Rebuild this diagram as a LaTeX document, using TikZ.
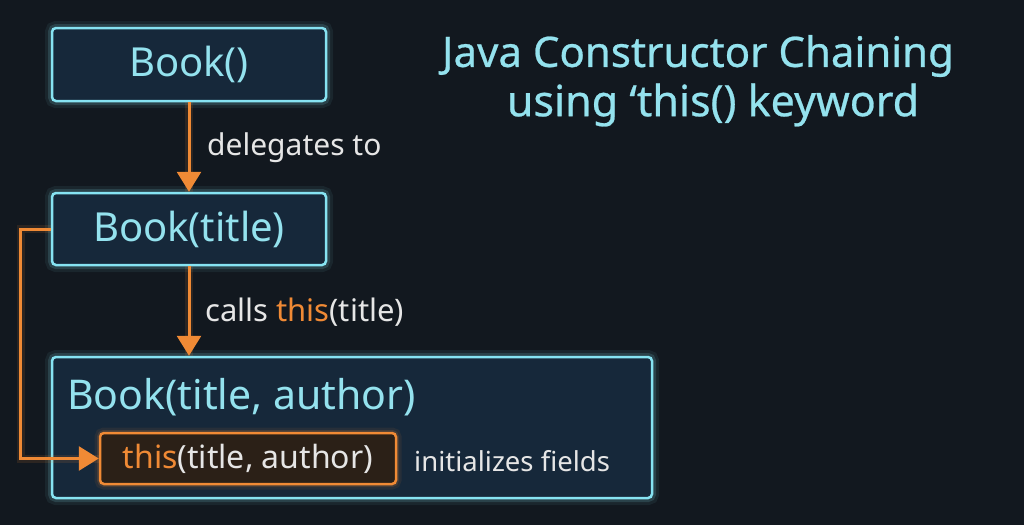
\documentclass[tikz,border=0pt]{standalone}
\usepackage{fontspec}
\setmainfont{Noto Sans}
\newfontfamily\titlefont[FakeBold=0.6]{Noto Sans}
\usetikzlibrary{arrows.meta}
\definecolor{bg}{HTML}{12181F}
\definecolor{cy}{HTML}{86E3F2}
\definecolor{cytext}{HTML}{94E2EE}
\definecolor{boxfill}{HTML}{16283A}
\definecolor{or}{HTML}{F08A35}
\definecolor{orfill}{HTML}{2B2017}
\definecolor{wt}{HTML}{E6E6E6}
\tikzset{
  glowbox/.style={rectangle, rounded corners=4pt, fill=boxfill, draw=cy, line width=2.5pt,
    preaction={draw=cy, line width=14pt, opacity=0.07},
    preaction={draw=cy, line width=8pt, opacity=0.15},
    text=cytext, inner sep=0pt},
  orbox/.style={rectangle, rounded corners=4pt, fill=orfill, draw=or, line width=2.5pt,
    preaction={draw=or, line width=11pt, opacity=0.08},
    preaction={draw=or, line width=6pt, opacity=0.15},
    text=wt, inner sep=0pt},
  arr/.style={draw=or, line width=3pt, -{Triangle[width=24pt,length=20pt]},
    preaction={draw=or, line width=8pt, opacity=0.12, -}},
  lbl/.style={text=wt, inner sep=0pt, anchor=west},
}
\begin{document}
\begin{tikzpicture}[x=1pt,y=-1pt]
\fill[bg] (0,0) rectangle (1024,525);
\useasboundingbox (0,0) rectangle (1024,525);
\node[glowbox, minimum width=274pt, minimum height=73pt, font=\fontsize{40}{42}\selectfont] (n1) at (189,64.5) {Book()};
\node[glowbox, minimum width=274pt, minimum height=72pt, font=\fontsize{40}{42}\selectfont] (n2) at (189,229) {Book(title)};
\node[glowbox, minimum width=600pt, minimum height=141pt] (n3) at (352,427.5) {};
\node[text=cytext, inner sep=0pt, anchor=west, font=\fontsize{41}{43}\selectfont] (n3t) at (67,397) {Book(title, author)};
\node[orbox, minimum width=296pt, minimum height=51pt, font=\fontsize{32}{34}\selectfont] (n4) at (248,458.5) {\textcolor{or}{this}(title, author)};
\node[lbl, font=\fontsize{27.5}{30}\selectfont] (l4) at (414,461) {initializes fields};
\draw[arr] (n1.south) -- (n2.north);
\draw[arr] (n2.south) -- (n3.north -| n2.south);
\draw[arr] (n2.west) -- ++(-30,0) |- (n4.west);
\node[lbl, font=\fontsize{30}{32}\selectfont] (l1) at (207,148) {delegates to};
\node[lbl, font=\fontsize{31}{33}\selectfont] (l2) at (205,312) {calls \textcolor{or}{this}(title)};
\node[text=cytext, inner sep=0pt, font=\titlefont\fontsize{42}{44}\selectfont] (t1) at (698,56) {Java Constructor Chaining};
\node[text=cytext, inner sep=0pt, font=\titlefont\fontsize{43}{45}\selectfont] (t2) at (713,105) {using ‘this() keyword};
\end{tikzpicture}
\end{document}
